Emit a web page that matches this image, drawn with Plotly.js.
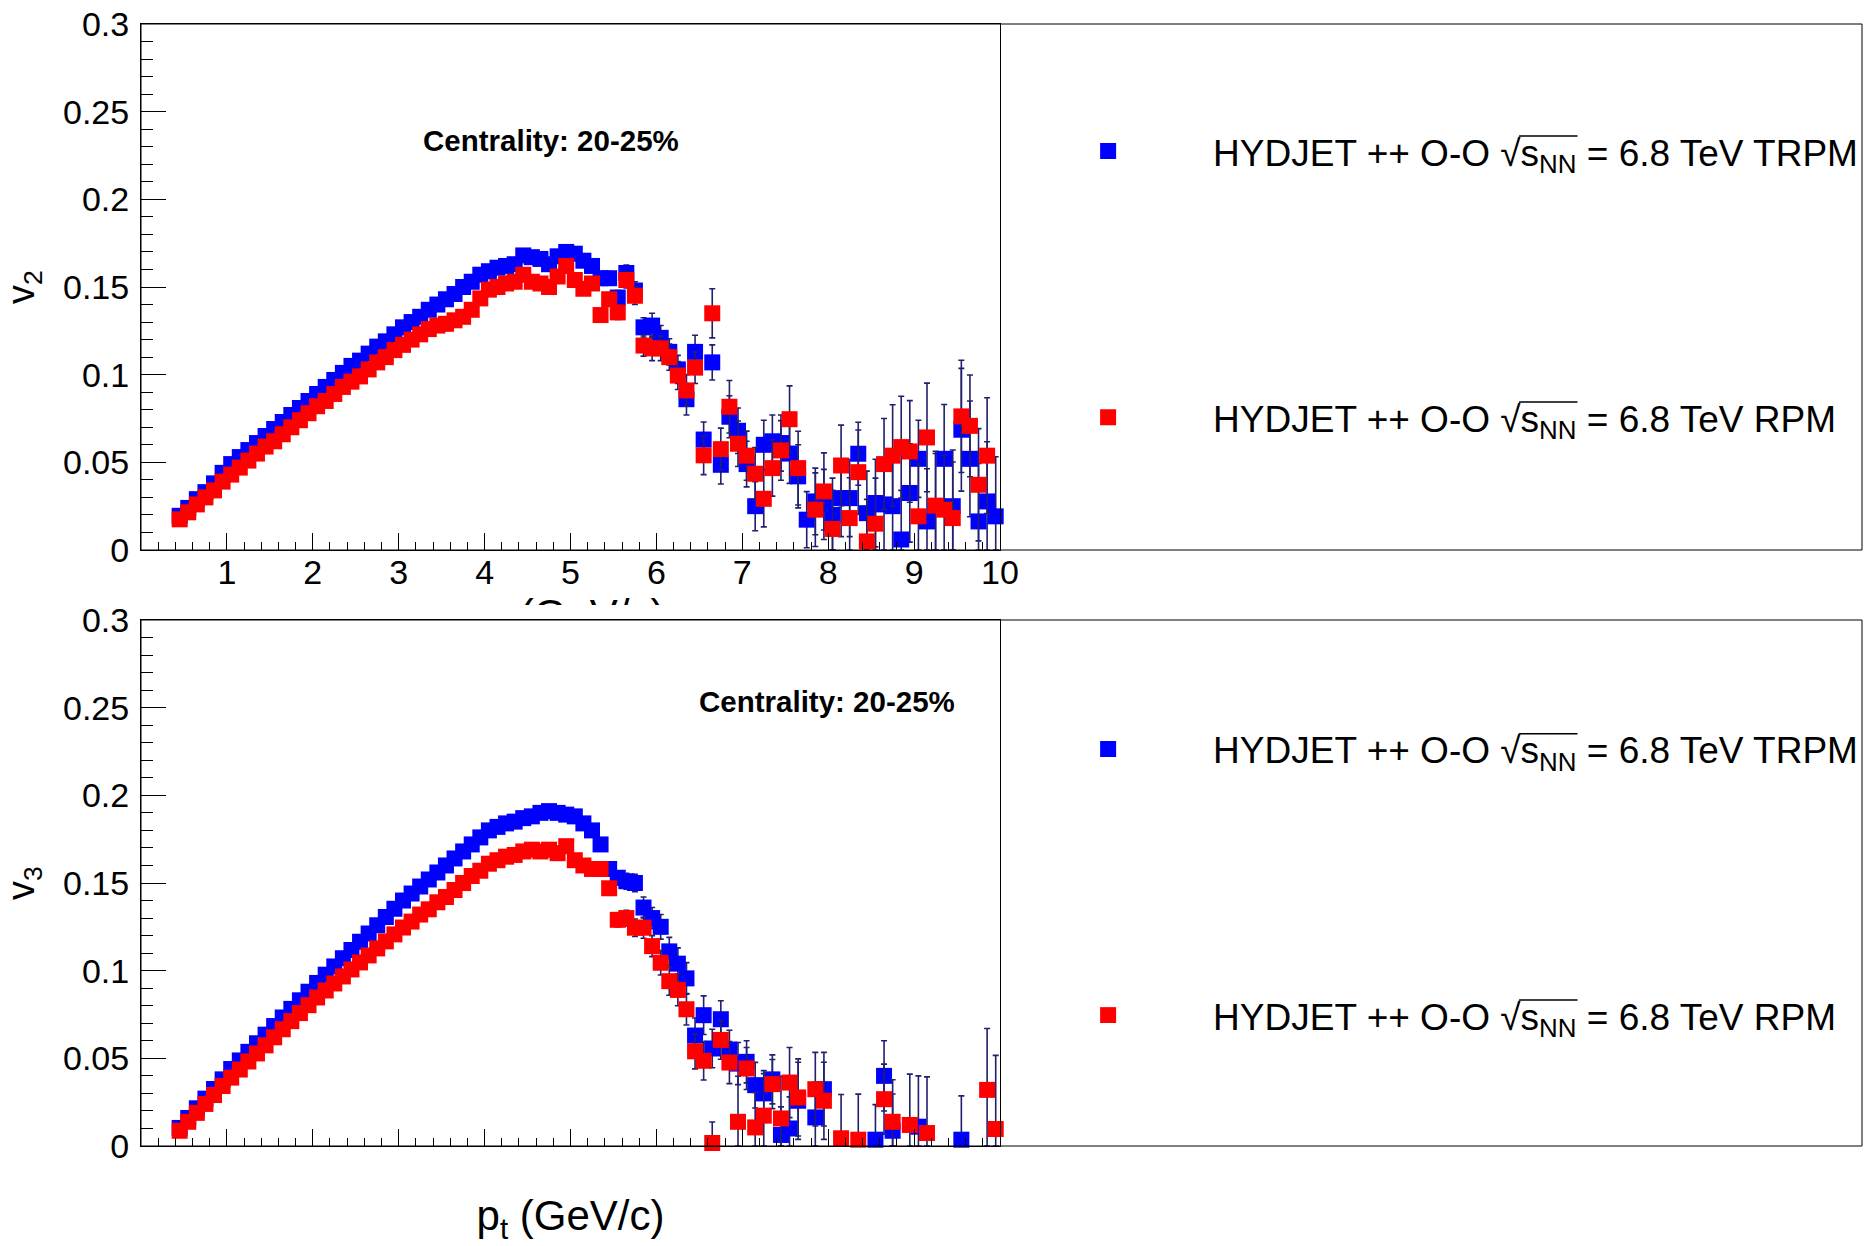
<!DOCTYPE html>
<html><head><meta charset="utf-8">
<script src="https://cdn.plot.ly/plotly-3.0.1.min.js"></script>
<style>
html,body{margin:0;padding:0;background:#fff;}
#pad1{position:absolute;left:0;top:0;width:1868px;height:605px;overflow:hidden;background:#fff;}
#pad2{position:absolute;left:0;top:585px;width:1868px;height:661px;overflow:hidden;background:transparent;}
</style></head><body>
<div id="pad1"><div id="g1"></div></div>
<div id="pad2"><div id="g2"></div></div>
<script>
// transverse momentum bin centres (GeV/c)
const pt = [0.45,0.55,0.65,0.75,0.85,0.95,1.05,1.15,1.25,1.35,1.45,1.55,1.65,1.75,1.85,1.95,
2.05,2.15,2.25,2.35,2.45,2.55,2.65,2.75,2.85,2.95,3.05,3.15,3.25,3.35,3.45,3.55,3.65,3.75,3.85,3.95,
4.05,4.15,4.25,4.35,4.45,4.55,4.65,4.75,4.85,4.95,5.05,5.15,5.25,5.35,5.45,5.55,5.65,5.75,5.85,5.95,
6.05,6.15,6.25,6.35,6.45,6.55,6.65,6.75,6.85,6.95,7.05,7.15,7.25,7.35,7.45,7.55,7.65,7.75,7.85,7.95,
8.05,8.15,8.25,8.35,8.45,8.55,8.65,8.75,8.85,8.95,9.05,9.15,9.25,9.35,9.45,9.55,9.65,9.75,9.85,9.95];

// v2, TRPM (blue)
const v2_trpm = [0.0195,0.024,0.029,0.033,0.038,0.044,0.049,0.053,0.057,0.061,0.065,0.069,0.073,0.077,0.081,0.085,
0.089,0.093,0.097,0.101,0.105,0.108,0.112,0.116,0.119,0.123,0.127,0.130,0.133,0.137,0.140,0.143,0.146,0.150,0.153,0.157,
0.159,0.161,0.162,0.163,0.168,0.167,0.166,0.163,0.1675,0.170,0.169,0.165,0.162,0.155,0.155,0.144,0.158,0.148,0.127,0.128,
0.121,0.113,0.103,0.086,0.113,0.063,0.107,0.0486,0.076,0.068,0.049,0.025,0.060,0.062,0.061,0.055,0.042,0.0173,0.0277,0.026,
0.020,0.0296,0.0296,0.0549,0.021,0.0268,0.026,0.025,0.006,0.0325,0.052,0.0163,0.025,0.052,0.025,0.0686,0.052,0.0163,0.0277,0.0192];
const v2_trpm_err = [0.0004,0.0004,0.0004,0.0004,0.0004,0.0004,0.0005,0.0005,0.0005,0.0005,0.0005,0.0005,0.0005,0.0005,0.0005,0.0005,
0.0007,0.0007,0.0007,0.0007,0.0007,0.0007,0.0007,0.0007,0.0007,0.0007,0.001,0.001,0.001,0.001,0.001,0.001,0.001,0.001,0.001,0.001,
0.0018,0.0019,0.002,0.002,0.0021,0.0022,0.0023,0.0024,0.0025,0.0026,0.003,0.003,0.0032,0.0035,0.0038,0.004,0.0045,0.005,0.0055,0.007,
0.007,0.0075,0.008,0.009,0.0095,0.010,0.010,0.011,0.012,0.013,0.013,0.014,0.014,0.015,0.016,0.017,0.018,0.016,0.019,0.020,
0.021,0.022,0.022,0.018,0.024,0.025,0.026,0.027,0.028,0.028,0.022,0.030,0.030,0.031,0.032,0.035,0.033,0.033,0.034,0.034];

// v2, RPM (red)
const v2_rpm = [0.0175,0.0215,0.026,0.030,0.034,0.039,0.043,0.047,0.051,0.055,0.059,0.062,0.066,0.070,0.074,0.078,
0.082,0.085,0.089,0.093,0.096,0.099,0.103,0.107,0.110,0.114,0.117,0.120,0.123,0.126,0.128,0.129,0.131,0.133,0.137,0.1435,
0.1485,0.150,0.152,0.153,0.157,0.153,0.152,0.150,0.156,0.162,0.154,0.149,0.152,0.134,0.143,0.1355,0.154,0.145,0.1166,0.115,
0.115,0.110,0.0995,0.091,0.104,0.054,0.135,0.0575,0.0817,0.0606,0.0538,0.0435,0.0292,0.0467,0.0568,0.0746,0.0467,null,0.023,0.0334,
0.012,0.0482,0.0182,0.0444,0.0049,0.015,0.049,0.0538,0.0587,0.0562,0.0192,0.0642,0.0253,0.023,0.0182,0.0762,0.0708,0.0372,0.0538,null];
const v2_rpm_err = [0.0004,0.0004,0.0004,0.0004,0.0004,0.0004,0.0005,0.0005,0.0005,0.0005,0.0005,0.0005,0.0005,0.0005,0.0005,0.0005,
0.0007,0.0007,0.0007,0.0007,0.0007,0.0007,0.0007,0.0007,0.0007,0.0007,0.001,0.001,0.001,0.001,0.001,0.001,0.001,0.001,0.001,0.001,
0.0018,0.0019,0.002,0.002,0.0021,0.0022,0.0023,0.0024,0.0025,0.0026,0.003,0.003,0.0032,0.0035,0.0038,0.004,0.0045,0.005,0.006,0.007,
0.007,0.0075,0.008,0.009,0.009,0.011,0.014,0.012,0.015,0.013,0.014,0.015,0.016,0.016,0.017,0.019,0.021,0.020,0.021,0.022,
0.022,0.023,0.023,0.024,0.024,0.026,0.026,0.029,0.029,0.029,0.030,0.031,0.031,0.031,0.032,0.032,0.029,0.032,0.033,0.034];

// v3, TRPM (blue)
const v3_trpm = [0.0103,0.016,0.0215,0.027,0.0325,0.038,0.0439,0.0488,0.0537,0.0586,0.0635,0.0684,0.0733,0.0782,0.0831,0.088,
0.093,0.0977,0.1024,0.1071,0.1118,0.1165,0.1212,0.1259,0.1306,0.1353,0.140,0.144,0.148,0.152,0.156,0.160,0.164,0.168,0.172,0.176,
0.180,0.182,0.184,0.185,0.187,0.188,0.190,0.191,0.190,0.189,0.188,0.184,0.180,0.172,0.158,0.153,0.151,0.150,0.136,0.130,
0.125,0.111,0.104,0.0956,0.063,0.0746,0.0556,0.0723,0.055,0.047,0.048,0.0347,0.030,0.038,0.0063,0.010,0.0258,null,0.0163,0.0324,
null,null,null,null,null,0.0036,0.040,0.0087,null,null,0.011,null,null,null,null,0.0036,null,null,null,null];
const v3_trpm_err = [0.0004,0.0004,0.0004,0.0004,0.0004,0.0004,0.0005,0.0005,0.0005,0.0005,0.0005,0.0005,0.0005,0.0005,0.0005,0.0005,
0.0007,0.0007,0.0007,0.0007,0.0007,0.0007,0.0007,0.0007,0.0007,0.0007,0.001,0.001,0.001,0.001,0.001,0.001,0.001,0.001,0.001,0.001,
0.0015,0.0016,0.0017,0.0018,0.0019,0.002,0.0021,0.0022,0.0023,0.0024,0.0025,0.0027,0.003,0.0033,0.0037,0.004,0.0045,0.005,0.006,0.006,
0.007,0.008,0.009,0.009,0.010,0.011,0.011,0.0105,0.011,0.012,0.012,0.013,0.013,0.014,0.016,0.018,0.022,0.020,0.020,0.021,
0.022,0.023,0.024,0.024,0.025,0.020,0.020,0.021,0.027,0.028,0.029,0.030,0.031,0.032,0.033,0.025,0.035,0.036,0.037,0.038];

// v3, RPM (red)
const v3_rpm = [0.0087,0.0138,0.0189,0.024,0.0291,0.0342,0.039,0.0436,0.0482,0.0528,0.0574,0.062,0.0666,0.0712,0.0758,0.0803,
0.0847,0.0887,0.0927,0.0967,0.1007,0.1047,0.1087,0.1127,0.1167,0.1207,0.1246,0.128,0.132,0.135,0.139,0.142,0.146,0.150,0.154,0.157,
0.161,0.163,0.165,0.166,0.168,0.169,0.168,0.169,0.167,0.171,0.163,0.160,0.158,0.158,0.147,0.129,0.130,0.1245,0.1245,0.114,
0.1045,0.094,0.089,0.078,0.054,0.0486,0.0017,0.0605,0.0476,0.0138,0.0442,0.0106,0.0173,0.0353,0.0157,0.0362,0.0277,null,0.0324,0.0258,
null,0.0044,null,0.0036,null,null,0.0267,0.0138,null,0.012,null,0.0074,null,null,null,null,null,null,0.032,0.0097];
const v3_rpm_err = [0.0004,0.0004,0.0004,0.0004,0.0004,0.0004,0.0005,0.0005,0.0005,0.0005,0.0005,0.0005,0.0005,0.0005,0.0005,0.0005,
0.0007,0.0007,0.0007,0.0007,0.0007,0.0007,0.0007,0.0007,0.0007,0.0007,0.001,0.001,0.001,0.001,0.001,0.001,0.001,0.001,0.001,0.001,
0.0015,0.0016,0.0017,0.0018,0.0019,0.002,0.0021,0.0022,0.0023,0.0024,0.0025,0.0027,0.003,0.0033,0.0037,0.004,0.0045,0.005,0.006,0.006,
0.007,0.008,0.009,0.009,0.010,0.011,0.012,0.011,0.012,0.026,0.012,0.020,0.024,0.014,0.024,0.020,0.022,0.020,0.021,0.022,
0.022,0.025,0.024,0.026,0.025,0.026,0.020,0.024,0.027,0.029,0.030,0.032,0.031,0.032,0.033,0.034,0.035,0.036,0.035,0.042];

const legendTRPM = 'HYDJET ++ O-O √s<sub>NN</sub> = 6.8 TeV TRPM';
const legendRPM  = 'HYDJET ++ O-O √s<sub>NN</sub> = 6.8 TeV RPM';
const centralityText = '<b>Centrality: 20-25%</b>';
const xTitle = 'p<sub>t</sub> (GeV/c)';

const BLUE = '#0000ff', RED = '#ff0000', ERR = '#20206e';
const FONT = 'Liberation Sans, Arial, Helvetica, sans-serif';
const LEGFONT = 37;

function clipLow(vals, errs){ return errs.map((e,i)=> vals[i]==null ? 0 : Math.min(e, vals[i])); }

function series(y, err, color, name, group){
  return {
    x: pt, y: y, type: 'scatter', mode: 'markers', name: name, legendgroup: group,
    marker: {symbol: 'square', size: 16, color: color, line: {width: 0}},
    error_y: {type: 'data', array: err, arrayminus: clipLow(y, err), visible: true,
              color: ERR, thickness: 1.6, width: 3},
    cliponaxis: false, hoverinfo: 'x+y'
  };
}

function layoutFor(yTitle, showXLabels, h, mt, mb, legY, centX, centY, xStandoff, bg){
  return {
    width: 1868, height: h,
    margin: {l: 141, r: 868, t: mt, b: mb, pad: 0},
    paper_bgcolor: bg, plot_bgcolor: '#fff',
    font: {family: FONT, color: '#000'},
    showlegend: true,
    legend: {xref: 'container', x: 0.537, xanchor: 'left', y: legY, yanchor: 'middle',
             font: {family: FONT, size: LEGFONT, color: '#000'},
             itemwidth: 200, tracegroupgap: 215, traceorder: 'grouped',
             bgcolor: 'rgba(0,0,0,0)', borderwidth: 0},
    xaxis: {range: [0, 10], showgrid: false, zeroline: false,
            showline: true, linecolor: '#000', linewidth: 1, mirror: true,
            tickmode: 'array', tickvals: [1,2,3,4,5,6,7,8,9,10],
            ticks: 'inside', ticklen: 17, tickwidth: 1, tickcolor: '#000',
            minor: {tickmode: 'linear', tick0: 0, dtick: 0.2, ticks: 'inside', ticklen: 8, tickwidth: 1, tickcolor: '#000', showgrid: false},
            showticklabels: showXLabels, ticklabelstandoff: -8,
            tickfont: {family: FONT, size: 34, color: '#000'},
            title: {text: xTitle, font: {family: FONT, size: 42, color: '#000'}, standoff: xStandoff}},
    yaxis: {range: [0, 0.3], showgrid: false, zeroline: false,
            showline: true, linecolor: '#000', linewidth: 1, mirror: true,
            tickmode: 'linear', tick0: 0, dtick: 0.05,
            ticks: 'inside', ticklen: 25, tickwidth: 1, tickcolor: '#000',
            minor: {tickmode: 'linear', tick0: 0, dtick: 0.01, ticks: 'inside', ticklen: 12, tickwidth: 1, tickcolor: '#000', showgrid: false},
            ticklabelstandoff: 4,
            tickfont: {family: FONT, size: 34, color: '#000'},
            title: {text: yTitle, font: {family: FONT, size: 38, color: '#000'}, standoff: 22}},
    shapes: [{type: 'rect', xref: 'paper', yref: 'paper', x0: 0, x1: 2.0035, y0: 0, y1: 1,
              line: {color: '#000', width: 1}, fillcolor: 'rgba(0,0,0,0)', layer: 'above'}],
    annotations: [{text: centralityText, xref: 'paper', yref: 'paper', x: centX, y: centY,
                   xanchor: 'center', yanchor: 'middle', showarrow: false,
                   font: {family: FONT, size: 29.5, color: '#000'}}]
  };
}

// radical bar over s_NN in the legend entries (drawn as layout shapes)
function addRadicalBars(id){
  try {
    const gd = document.getElementById(id);
    const fl = gd._fullLayout, sz = fl._size;
    const box = gd.getBoundingClientRect();
    const extra = [];
    gd.querySelectorAll('text.legendtext').forEach(t => {
      const s = t.textContent;
      const i = s.indexOf('√');
      const n = s.indexOf('NN', i);
      if (i < 0 || n < 0) return;
      const ctm = t.getScreenCTM();
      const svg = t.ownerSVGElement;
      const toScr = p => { const q = svg.createSVGPoint(); q.x = p.x; q.y = p.y; return q.matrixTransform(ctm); };
      const pa = t.getStartPositionOfChar(i);
      const pr = t.getEndPositionOfChar(i);
      const pe = t.getEndPositionOfChar(n + 1);
      const yTop = pa.y - 0.80 * LEGFONT;
      const a = toScr({x: pr.x - 1.5, y: yTop});
      const b = toScr({x: pe.x + 1, y: yTop});
      const X = v => (v - box.left - sz.l) / sz.w;
      const Y = v => 1 - (v - box.top - sz.t) / sz.h;
      extra.push({type: 'line', xref: 'paper', yref: 'paper',
                  x0: X(a.x), x1: X(b.x), y0: Y(a.y), y1: Y(b.y),
                  line: {color: '#000', width: 1.5}, layer: 'above'});
    });
    if (extra.length) Plotly.relayout(gd, {shapes: gd.layout.shapes.concat(extra)});
  } catch (e) { console.log(e); }
}

const cfg = {displayModeBar: false, responsive: false};

Plotly.newPlot('g1', [
  series(v2_trpm, v2_trpm_err, BLUE, legendTRPM, 'a'),
  series(v2_rpm, v2_rpm_err, RED, legendRPM, 'b')
], layoutFor('v<sub>2</sub>', true, 650, 24, 100, 0.5047, 0.4773, 0.7787, 8, '#fff'), cfg)
  .then(() => addRadicalBars('g1'));

Plotly.newPlot('g2', [
  series(v3_trpm, v3_trpm_err, BLUE, legendTRPM, 'a'),
  series(v3_rpm, v3_rpm_err, RED, legendRPM, 'b')
], layoutFor('v<sub>3</sub>', false, 661, 34.5, 99.5, 0.501, 0.7986, 0.846, 54, 'rgba(0,0,0,0)'), cfg)
  .then(() => addRadicalBars('g2'));
</script></body></html>
